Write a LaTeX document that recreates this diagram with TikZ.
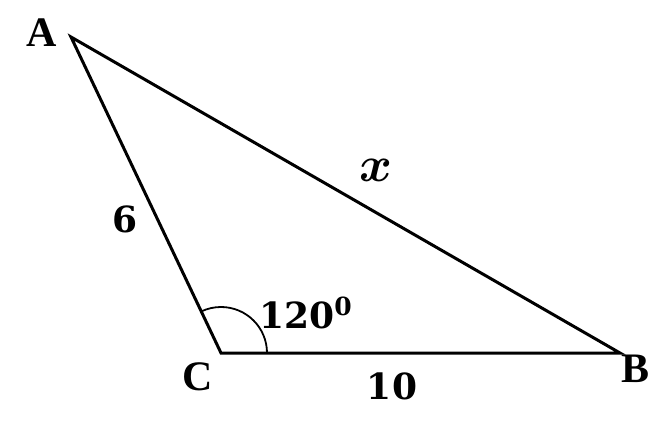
\documentclass[tikz,border=0pt]{standalone}
\usepackage{fontspec}
\usepackage{amsmath,bm,graphicx}
\setmainfont{Liberation Serif}
\newfontfamily\numfont{DejaVu Serif}
\usetikzlibrary{angles}
\tikzstyle{side}=[line width=3pt,line join=miter]
\tikzstyle{vertex}=[font=\fontsize{42}{42}\selectfont\bfseries,inner sep=0pt]
\tikzstyle{measure}=[font=\fontsize{36}{36}\selectfont\numfont\bfseries,inner sep=0pt]
\newcommand{\degsup}[1]{\raisebox{13pt}{\fontsize{25}{25}\selectfont #1}}

\begin{document}
\begin{tikzpicture}[x=1pt,y=1pt]
	\useasboundingbox (0,0) rectangle (664,426);
	% triangle corners
	\coordinate (A) at (71,389);
	\coordinate (C) at (221,73);
	\coordinate (B) at (620,73);
	\draw[side] (A) -- (B) -- (C) -- cycle;
	\pic[draw,line width=1.8pt,angle radius=46pt] {angle = B--C--A};
	% corner letters
	\node[vertex] (lA) at (42,393) {A};
	\node[vertex] (lB) at (635,57) {B};
	\node[vertex] (lC) at (198,49) {C};
	% lengths and angle
	\node[measure] (l6) at (125,207) {6};
	\node[measure] (l10) at (392,40) {10};
	\node[measure,anchor=base west] (lang) at (259,98) {120\degsup{0}};
	\node[inner sep=0pt] (lx) at (376,256) {\scalebox{5}{$\bm{x}$}};
\end{tikzpicture}
\end{document}
